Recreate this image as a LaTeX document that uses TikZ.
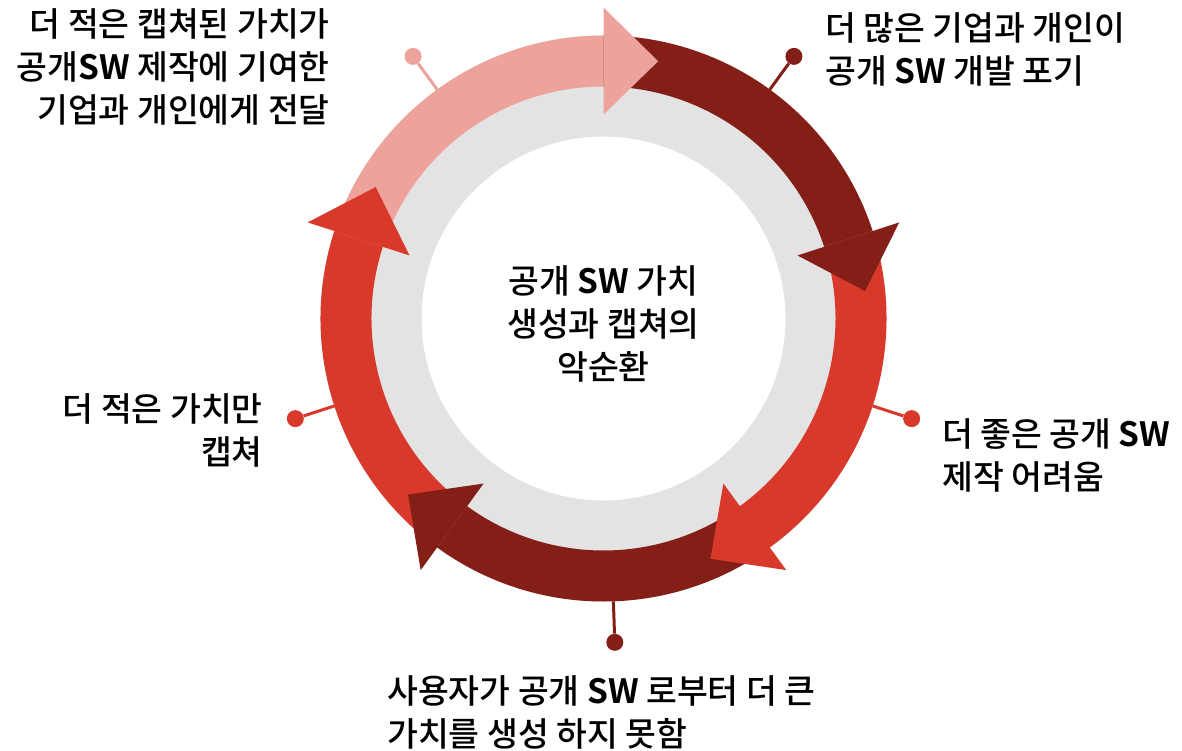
\documentclass[tikz,border=0pt]{standalone}
\usepackage{fontspec}
\setmainfont{Noto Sans CJK KR}[UprightFont={* Medium}, BoldFont={* Bold}]
\usetikzlibrary{positioning}
\definecolor{cyclepink}{RGB}{237,162,156}
\definecolor{cycledark}{RGB}{132,31,24}
\definecolor{cyclered}{RGB}{216,57,43}
\definecolor{cyclegray}{RGB}{227,227,227}

\begin{document}
\begin{tikzpicture}[x=1pt, y=1pt,
  pinline/.style={line width=3pt},
  pindot/.style={circle, inner sep=0pt, minimum size=17pt},
  note/.style={inner sep=0pt, font=\fontsize{33.5}{43}\selectfont}
]
  \useasboundingbox (-603.5,-431.5) rectangle (578.5,318.5);
  % gray ring
  \fill[cyclegray, even odd rule] (0,0) circle[radius=283] (0,0) circle[radius=182];
  % arrow bodies
  \foreach \a/\b/\c in {162/90/cyclepink, 90/18/cycledark, 18/-54/cyclered, -54/-126/cycledark, -126/-198/cyclered}
    \fill[\c] (\a:283) arc[start angle=\a, end angle=\b, radius=283] -- (\b:232) arc[start angle=\b, end angle=\a, radius=232] -- cycle;
  % arrow heads
  \foreach \b/\c in {90/cyclepink, 18/cycledark, -54/cyclered, -126/cycledark, -198/cyclered}
    \fill[\c] (\b:204) -- ({\b-12}:263) -- (\b:311) -- cycle;
  % pins
  \foreach \i/\t/\c in {1/126/cyclepink, 2/54/cycledark, 3/-18/cyclered, 4/-88/cycledark, 5/198/cyclered} {
    \coordinate (pin\i) at (\t:283);
    \node[pindot, fill=\c] (dot\i) at (\t:324) {};
    \draw[pinline, \c] (pin\i) -- (dot\i);
  }
  \node[note, anchor=north, align=center] (title) at (0,53.5) {공개 \textbf{SW} 가치\\생성과 캡쳐의\\악순환};
  \node[note, anchor=north east, align=right] (lostvalue) at (-273.5,310.5) {더 적은 캡쳐된 가치가\\공개\textbf{SW} 제작에 기여한\\기업과 개인에게 전달};
  \node[note, anchor=north west, align=left] (giveup) at (221.5,306.5) {더 많은 기업과 개인이\\공개 \textbf{SW} 개발 포기};
  \node[note, anchor=north west, align=left] (harder) at (338.5,-99.5) {더 좋은 공개 \textbf{SW}\\제작 어려움};
  \node[note, anchor=north east, align=right] (lesscapture) at (-340.5,-74.5) {더 적은 가치만\\캡쳐};
  \node[note, anchor=north west, align=left] (novalue) at (-216.5,-356.5) {사용자가 공개 \textbf{SW} 로부터 더 큰\\가치를 생성 하지 못함};
\end{tikzpicture}
\end{document}
